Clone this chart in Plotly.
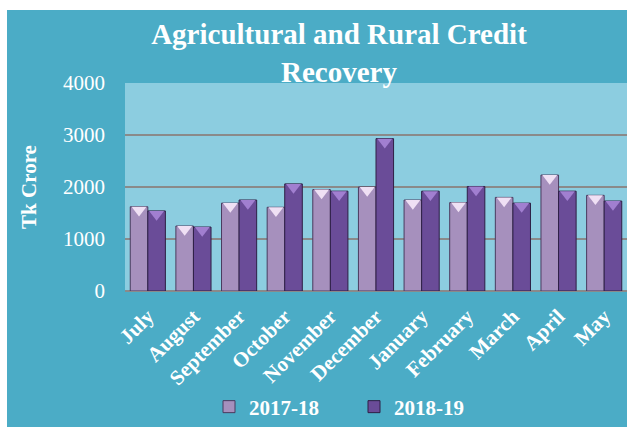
import plotly.graph_objects as go

months = ["July", "August", "September", "October", "November", "December",
          "January", "February", "March", "April", "May"]
fy_2017_18 = [1620, 1250, 1690, 1610, 1950, 2000, 1750, 1700, 1800, 2230, 1840]
fy_2018_19 = [1540, 1230, 1750, 2060, 1920, 2930, 1920, 2010, 1690, 1920, 1730]
series_names = ["2017-18", "2018-19"]
y_ticks = [0, 1000, 2000, 3000, 4000]

W, H = 627, 427
L, R, T, B = 125, 0, 83, 136
pw, ph = W - L - R, H - T - B
Y_MAX = 4000
BARGAP = 0.23

def px_x(p):
    return (p - L) / pw

def px_y(p):
    return (H - B - p) / ph

serif = "Liberation Serif, Times New Roman, serif"

fig = go.Figure()
fig.add_trace(go.Bar(
    x=months, y=fy_2017_18, name=series_names[0],
    marker=dict(color="#a690bd", line=dict(color="#4a3a5e", width=1)),
    hoverinfo="skip",
))
fig.add_trace(go.Bar(
    x=months, y=fy_2018_19, name=series_names[1],
    marker=dict(color="#6a4c98", line=dict(color="#2e1f45", width=1)),
    hoverinfo="skip",
))

# bevelled "pyramid" caps on the bar tops, on a hidden numeric overlay axis
cap_size = 13
cap_shift = (cap_size / 4) * Y_MAX / ph      # half-radius in data units
half_bar = (1 - BARGAP) / 4
idx = list(range(len(months)))
for vals, off, col in [(fy_2017_18, -half_bar, "#efe0f4"), (fy_2018_19, half_bar, "#a17fd0")]:
    fig.add_trace(go.Scatter(
        x=[i + off for i in idx], y=[v - cap_shift for v in vals], xaxis="x2",
        mode="markers", showlegend=False, hoverinfo="skip",
        marker=dict(symbol="triangle-down", size=cap_size, color=col, line=dict(width=0)),
    ))

fig.update_layout(
    width=W, height=H,
    margin=dict(l=L, r=R, t=T, b=B, autoexpand=False),
    paper_bgcolor="#4bacc6",
    plot_bgcolor="#8ccde0",
    barmode="group", bargap=BARGAP, bargroupgap=0,
    font=dict(family=serif, color="white"),
    title=dict(
        text="<b>Agricultural and Rural Credit<br>Recovery</b>",
        x=px_x(339), xref="paper", xanchor="center",
        y=1 - 44 / H, yref="container", yanchor="middle",
        font=dict(size=29, family=serif, color="white"),
    ),
    xaxis=dict(
        tickangle=-45, showgrid=False, showline=False, ticks="",
        tickfont=dict(size=21, family=serif, color="white", weight="bold"),
        ticklabelstandoff=8,
    ),
    xaxis2=dict(overlaying="x", range=[-0.5, len(months) - 0.5], visible=False),
    yaxis=dict(
        range=[0, Y_MAX], tickvals=y_ticks, showline=False, ticks="",
        gridcolor="#8a8a8a", gridwidth=2, zeroline=True, zerolinecolor="#8a8a8a", zerolinewidth=2,
        tickfont=dict(size=21, family=serif, color="white"),
        title=dict(text="<b>Tk Crore</b>", font=dict(size=21, family=serif, color="white"), standoff=20),
        ticklabelstandoff=19,
    ),
    legend=dict(
        orientation="h", x=px_x(354), xanchor="center", y=px_y(407), yanchor="middle",
        font=dict(size=21, family=serif, color="white", weight="bold"),
        entrywidth=100, itemwidth=30, bgcolor="rgba(0,0,0,0)",
    ),
    showlegend=True,
)

# white border strips (top, left) outside the chart frame
fig.add_shape(type="rect", xref="paper", yref="paper",
              x0=px_x(0), x1=px_x(7), y0=px_y(H), y1=px_y(0),
              fillcolor="white", line_width=0, layer="above")
fig.add_shape(type="rect", xref="paper", yref="paper",
              x0=px_x(0), x1=px_x(W), y0=px_y(10), y1=px_y(0),
              fillcolor="white", line_width=0, layer="above")

fig.write_html("out.html", config={"displayModeBar": False},
               post_script="document.body.style.margin='0';document.body.style.overflow='hidden';")
